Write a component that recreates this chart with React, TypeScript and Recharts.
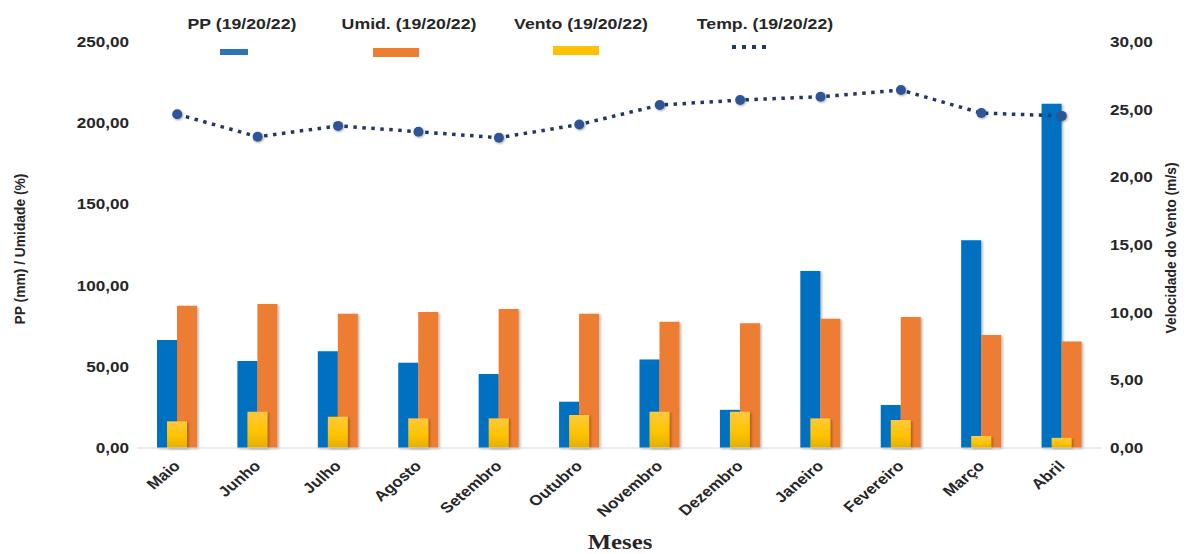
import React from 'react';
import { ComposedChart, Bar, Line, XAxis, YAxis } from 'recharts';

// Monthly climate summary (19/20/22): rainfall, humidity, wind and temperature
const months = ['Maio', 'Junho', 'Julho', 'Agosto', 'Setembro', 'Outubro', 'Novembro', 'Dezembro', 'Janeiro', 'Fevereiro', 'Março', 'Abril'];
const ppValues = [66.5, 53.5, 59.5, 52.5, 45.5, 28.5, 54.5, 23.5, 109, 26.5, 128, 212];
const umidValues = [87.6, 88.7, 82.7, 83.7, 85.6, 82.7, 77.8, 76.8, 79.6, 80.7, 69.6, 65.6];
const ventoValues = [1.97, 2.68, 2.31, 2.19, 2.19, 2.44, 2.68, 2.68, 2.19, 2.07, 0.89, 0.75];
const tempValues = [24.66, 23.0, 23.8, 23.37, 22.93, 23.9, 25.34, 25.71, 25.96, 26.45, 24.75, 24.54];
const leftTicks = [0, 50, 100, 150, 200, 250];
const rightTicks = [0, 5, 10, 15, 20, 25, 30];

const data = months.map((mes, i) => ({
  mes,
  pp: ppValues[i],
  umid: umidValues[i],
  vento: ventoValues[i],
  temp: tempValues[i],
}));

const FONT = '"Liberation Sans", Arial, sans-serif';
const INK = '#262626';
const STRETCH = 1.18; // labels are slightly wide

const fmt = (v: number) => v.toFixed(2).replace('.', ',');

const LeftTick = (props: any) => {
  const { x, y, payload } = props;
  return (
    <text
      transform={`translate(${x},${y}) scale(${STRETCH},1)`}
      textAnchor="end"
      dominantBaseline="central"
      fontFamily={FONT}
      fontWeight="bold"
      fontSize={14.5}
      fill={INK}
    >
      {fmt(payload.value)}
    </text>
  );
};

const RightTick = (props: any) => {
  const { x, y, payload } = props;
  return (
    <text
      transform={`translate(${x},${y}) scale(${STRETCH},1)`}
      textAnchor="start"
      dominantBaseline="central"
      fontFamily={FONT}
      fontWeight="bold"
      fontSize={14.5}
      fill={INK}
    >
      {fmt(payload.value)}
    </text>
  );
};

const MonthTick = (props: any) => {
  const { x, y, payload } = props;
  return (
    <text
      transform={`translate(${x + 4},${y + 11}) scale(${STRETCH},1) rotate(-45)`}
      textAnchor="end"
      fontFamily={FONT}
      fontWeight="bold"
      fontSize={14.5}
      fill={INK}
    >
      {payload.value}
    </text>
  );
};

const TempDot = (props: any) => {
  const { cx, cy } = props;
  if (cx == null || cy == null) return null;
  return <circle cx={cx} cy={cy} r={5} fill="#2F5597" filter="url(#softShadow)" />;
};

const legendText: React.CSSProperties = {
  position: 'absolute',
  top: 23,
  transform: `translate(-50%, -50%) scaleX(${STRETCH})`,
  fontFamily: FONT,
  fontWeight: 'bold',
  fontSize: 15,
  color: INK,
  whiteSpace: 'nowrap',
};

const legendItems = [
  { label: 'PP (19/20/22)', cx: 242 },
  { label: 'Umid. (19/20/22)', cx: 409 },
  { label: 'Vento (19/20/22)', cx: 581 },
  { label: 'Temp. (19/20/22)', cx: 765 },
];

const axisTitle: React.CSSProperties = {
  position: 'absolute',
  transform: 'translate(-50%, -50%) rotate(-90deg)',
  fontFamily: FONT,
  fontWeight: 'bold',
  fontSize: 13.8,
  color: INK,
  whiteSpace: 'nowrap',
};

export default function App() {
  return (
    <div style={{ position: 'absolute', left: 0, top: 0, width: 1195, height: 554, background: '#fff' }}>
      <ComposedChart
        width={1195}
        height={554}
        data={data}
        margin={{ top: 42, right: 0, bottom: 0, left: 0 }}
        barGap={0}
      >
        <defs>
          <linearGradient id="ventoFill" x1="0" y1="0" x2="0" y2="1">
            <stop offset="0%" stopColor="#FFC83D" />
            <stop offset="55%" stopColor="#FFC400" />
            <stop offset="100%" stopColor="#E3AE00" />
          </linearGradient>
          <filter id="barShadow" x="-20%" y="-5%" width="150%" height="115%">
            <feDropShadow dx="1.5" dy="1" stdDeviation="1.3" floodColor="#000" floodOpacity="0.3" />
          </filter>
          <filter id="softShadow" x="-50%" y="-50%" width="200%" height="200%">
            <feDropShadow dx="1" dy="1" stdDeviation="1" floodColor="#000" floodOpacity="0.35" />
          </filter>
        </defs>
        <XAxis
          dataKey="mes"
          height={106}
          interval={0}
          tickLine={false}
          axisLine={{ stroke: '#D9D9D9', strokeWidth: 1 }}
          tick={<MonthTick />}
        />
        <XAxis xAxisId="vento" dataKey="mes" hide />
        <YAxis
          yAxisId="left"
          width={137}
          domain={[0, 250]}
          ticks={leftTicks}
          axisLine={false}
          tickLine={false}
          tick={<LeftTick />}
        />
        <YAxis
          yAxisId="right"
          orientation="right"
          width={93}
          domain={[0, 30]}
          ticks={rightTicks}
          axisLine={false}
          tickLine={false}
          tick={<RightTick />}
        />
        <YAxis yAxisId="ventoAxis" orientation="right" domain={[0, 30]} hide />
        <Bar dataKey="pp" yAxisId="left" fill="#0070C0" barSize={20} filter="url(#barShadow)" isAnimationActive={false} />
        <Bar dataKey="umid" yAxisId="left" fill="#ED7D31" barSize={20} filter="url(#barShadow)" isAnimationActive={false} />
        <Bar
          dataKey="vento"
          xAxisId="vento"
          yAxisId="ventoAxis"
          fill="url(#ventoFill)"
          barSize={20}
          filter="url(#barShadow)"
          isAnimationActive={false}
        />
        <Line
          dataKey="temp"
          yAxisId="right"
          type="linear"
          stroke="#1F3864"
          strokeWidth={3.5}
          strokeDasharray="3.5 5.5"
          dot={<TempDot />}
          activeDot={false}
          isAnimationActive={false}
        />
      </ComposedChart>

      {legendItems.map((it) => (
        <div key={it.label} style={{ ...legendText, left: it.cx }}>
          {it.label}
        </div>
      ))}
      <div style={{ position: 'absolute', left: 220, top: 49, width: 28, height: 6, background: '#2E75B6' }} />
      <div style={{ position: 'absolute', left: 373, top: 48, width: 46, height: 9, background: '#ED7D31' }} />
      <div style={{ position: 'absolute', left: 553, top: 46, width: 46, height: 9, background: '#FFC000' }} />
      <svg style={{ position: 'absolute', left: 728, top: 42 }} width={44} height={10}>
        <line x1={4} y1={5} x2={42} y2={5} stroke="#1F3864" strokeWidth={4} strokeDasharray="4 6" />
      </svg>

      <div style={{ ...axisTitle, left: 20, top: 249 }}>PP (mm) / Umidade (%)</div>
      <div style={{ ...axisTitle, left: 1171, top: 248 }}>Velocidade do Vento (m/s)</div>
      <div
        style={{
          position: 'absolute',
          left: 620,
          top: 542,
          transform: `translate(-50%, -50%) scaleX(${STRETCH})`,
          fontFamily: '"Liberation Serif", "Times New Roman", serif',
          fontWeight: 'bold',
          fontSize: 21,
          color: INK,
          whiteSpace: 'nowrap',
        }}
      >
        Meses
      </div>
    </div>
  );
}
